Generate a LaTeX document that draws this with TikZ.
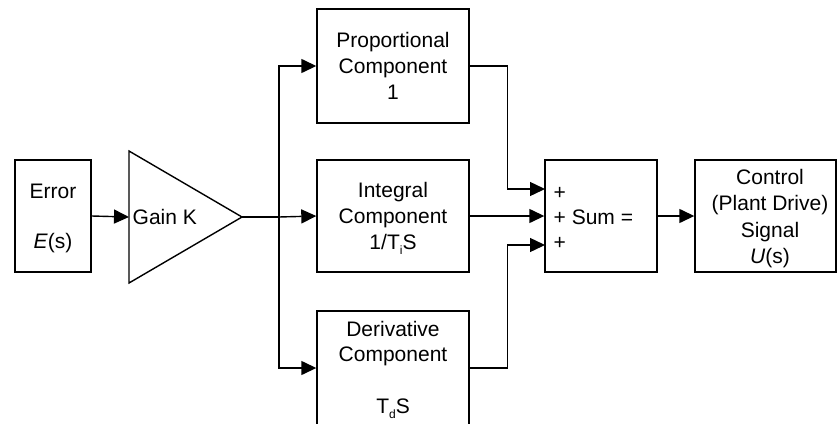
\documentclass[tikz,border=0pt]{standalone}
\usepackage{fontspec}
\setmainfont{Liberation Sans}
\usetikzlibrary{arrows.meta}
\newcommand{\lowsub}[1]{\raisebox{-5pt}{\fontsize{12}{12}\selectfont #1}}
\begin{document}
\begin{tikzpicture}[x=1pt,y=-1pt,line width=1.4pt,
  >={Triangle[length=15pt,width=14pt]},
  box/.style={draw,rectangle,inner sep=0pt,align=center,
    font=\fontsize{21}{26}\selectfont},
  lbl/.style={inner sep=0pt,align=center,font=\fontsize{21}{26}\selectfont}]
\clip (0,0) rectangle (837,423);

% blocks
\node[box,minimum width=76pt,minimum height=112pt] (err) at (53,216) {};
\node[lbl] (errtxt) at (53,218) {Error\\[24pt]\textit{E}(s)};
\node[box,minimum width=152pt,minimum height=114pt] (prop) at (393,66)
  {Proportional\\Component\\1};
\node[box,minimum width=152pt,minimum height=112pt] (int) at (393,216) {};
\node[lbl] (inttxt) at (393,218) {Integral\\Component\\1/T\lowsub{i}S};
\node[box,minimum width=152pt,minimum height=114pt] (der) at (393,368) {};
\node[lbl,font=\fontsize{21}{25}\selectfont] (dertxt) at (393,369.5)
  {Derivative\\Component\\[27pt]T\lowsub{d}S};
\node[box,minimum width=112pt,minimum height=112pt] (sum) at (601,216) {};
\node[lbl,anchor=west,align=left,font=\fontsize{21}{25}\selectfont] (sumtxt)
  at (553,218.5) {+\\+ Sum =\\+};
\node[box,minimum width=141pt,minimum height=112pt] (ctrl) at (765.5,216) {};
\node[lbl,font=\fontsize{21}{26.5}\selectfont] (ctrltxt) at (770,218.5)
  {Control\\(Plant Drive)\\Signal\\\textit{U}(s)};

% gain amplifier
\coordinate (gin) at (129,217);
\coordinate (gout) at (242,217);
\draw[line join=miter] (129,151) -- (gout) -- (129,283) -- cycle;
\node[lbl,anchor=west] (gaintxt) at (132,217) {Gain K};

% connectors
\coordinate (sp) at (279,217);
\coordinate (sumin1) at (545,189);
\coordinate (sumin3) at (545,245);
\draw[->] (err.east) -- (gin);
\draw (gout) -- (sp);
\draw[->] (sp) -- (int.west);
\draw[->] (sp) |- (prop.west);
\draw[->] (sp) |- (der.west);
\draw[->] (prop.east) -- ++(38,0) |- (sumin1);
\draw[->] (int.east) -- (sum.west);
\draw[->] (der.east) -- ++(38,0) |- (sumin3);
\draw[->] (sum.east) -- (ctrl.west);
\end{tikzpicture}
\end{document}
